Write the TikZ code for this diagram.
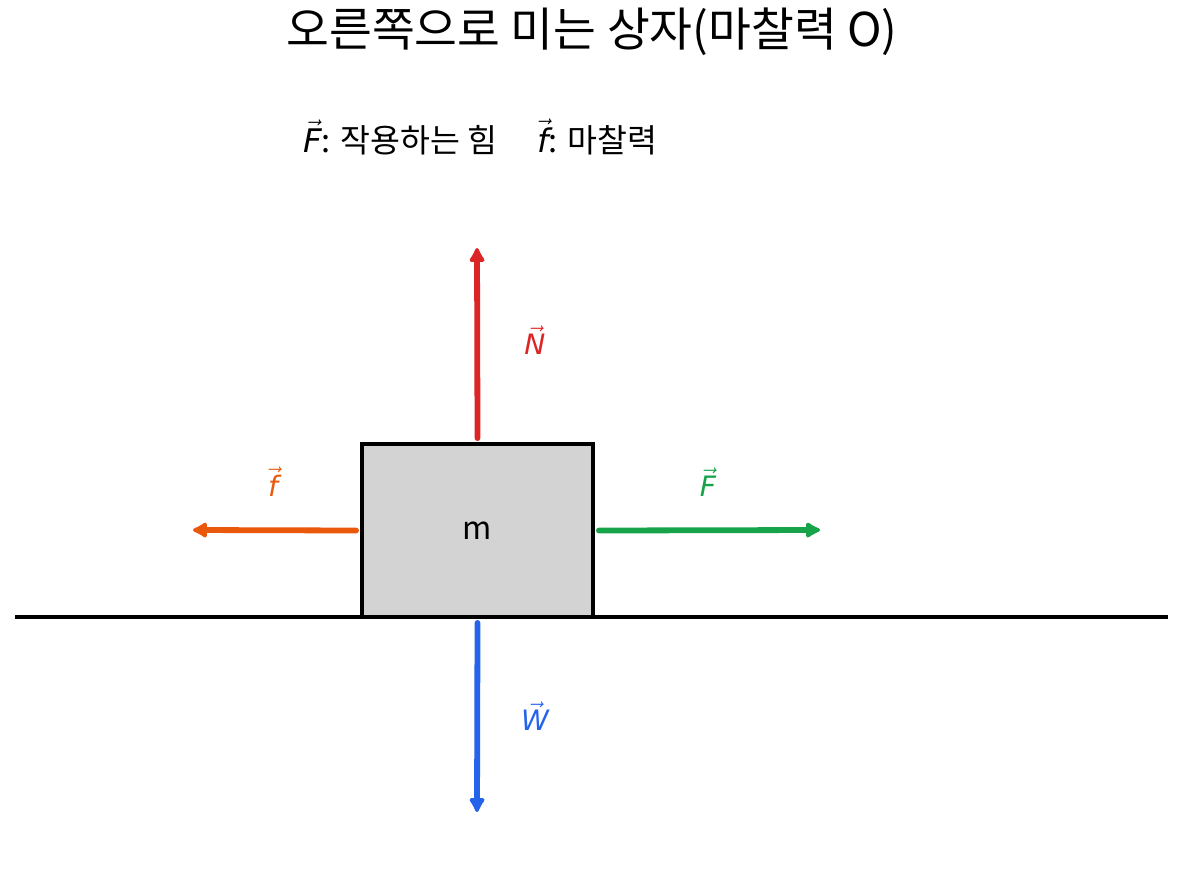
\documentclass[tikz,border=0pt]{standalone}
\usepackage{fontspec}
\setmainfont{Noto Sans CJK KR}
\newfontfamily\vecfont{DejaVu Sans}
\usetikzlibrary{arrows.meta,positioning}
\definecolor{normalred}{HTML}{DC2626}
\definecolor{fricorange}{HTML}{EA580C}
\definecolor{pushgreen}{HTML}{16A34A}
\definecolor{weightblue}{HTML}{2563EB}
\newcommand{\vecsym}[1]{\ensuremath{\vec{\mbox{\vecfont\itshape #1}}}}
\begin{document}
\begin{tikzpicture}[x=0.02cm,y=-0.02cm,
massblock/.style={draw,rectangle,line width=2.2pt,fill={rgb,255:red,211;green,211;blue,211},minimum width=4.62cm,minimum height=3.46cm,inner sep=0pt,font=\fontsize{18}{21}\selectfont},
force/.style={line width=3.3pt,line cap=round,-{Latex[round,length=3.4mm,width=3.8mm]}},
forcelabel/.style={font=\fontsize{16}{19}\selectfont}]
\useasboundingbox (0,0) rectangle (1185,892);
\node (title) at (592,32) {\fontsize{26.5}{30}\selectfont 오른쪽으로 미는 상자(마찰력 O)};
\node[anchor=west] (legend) at (297,137) {\fontsize{18.5}{22}\selectfont \vecsym{F}: 작용하는 힘\quad\ \vecsym{f}: 마찰력};
% ground and block
\coordinate (gl) at (15,617);
\coordinate (gr) at (1168,617);
\draw[line width=1.9pt] (gl) -- (gr);
\node[massblock] (box) at (477.5,530.5) {m};
% force tips
\coordinate (ntip) at (477,248);
\coordinate (wtip) at (477,812);
\coordinate (ftip) at (193,530);
\coordinate (Ftip) at (820,530);
\draw[force,color=normalred] ([yshift=0.08cm]box.north) -- (ntip);
\draw[force,color=weightblue] ([yshift=-0.08cm]box.south) -- (wtip);
\draw[force,color=fricorange] ([xshift=-0.08cm]box.west) -- (ftip);
\draw[force,color=pushgreen] ([xshift=0.08cm]box.east) -- (Ftip);
\node[forcelabel,color=normalred] (nlab) at (535,340) {\vecsym{N}};
\node[forcelabel,color=weightblue] (wlab) at (535,716) {\vecsym{W}};
\node[forcelabel,color=fricorange] (flab) at (273,482) {\vecsym{f}};
\node[forcelabel,color=pushgreen] (Flab) at (708,482) {\vecsym{F}};
\end{tikzpicture}
\end{document}
